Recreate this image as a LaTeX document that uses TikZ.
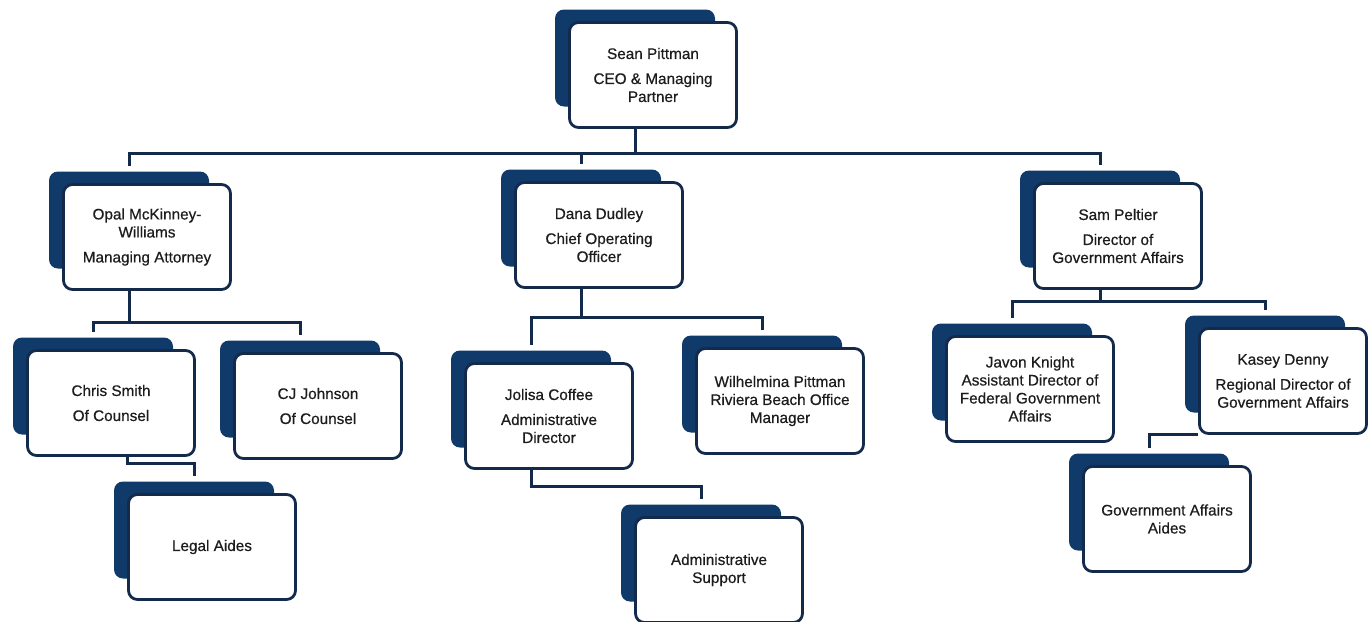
\documentclass[tikz,border=0pt]{standalone}
\usepackage{fontspec}
\setmainfont{Liberation Sans}[FakeBold=0.5]

\definecolor{navy}{RGB}{16,58,106}
\definecolor{edgec}{RGB}{20,42,74}
\definecolor{txt}{RGB}{28,28,30}

\begin{document}
\begin{tikzpicture}[x=1pt, y=-1pt, font=\fontsize{15.3}{18}\selectfont, text=txt,
    back/.style = {fill=navy, rounded corners=9pt, minimum width=160, minimum height=97, inner sep=0pt},
    card/.style = {draw=edgec, fill=white, line width=2.8pt, rounded corners=9pt, minimum width=167, minimum height=105, inner sep=2pt, align=center},
    link/.style = {draw=edgec, line width=3pt, shorten >=5pt}]
    \useasboundingbox (0,0) rectangle (1372,621);
    % top
    \node[back] (seanbk) at (635,58) {};
    \node[card] (sean) at ([shift={(18,17)}]seanbk) {Sean Pittman\\[7pt]CEO \& Managing\\Partner};
    % second row
    \node[back] (opalbk) at (129,220) {};
    \node[card] (opal) at ([shift={(18,17)}]opalbk) {Opal McKinney-\\Williams\\[7pt]Managing Attorney};
    \node[back] (danabk) at (581,218) {};
    \node[card] (dana) at ([shift={(18,17)}]danabk) {Dana Dudley\\[7pt]Chief Operating\\Officer};
    \node[back] (sambk) at (1100,219) {};
    \node[card] (sam) at ([shift={(18,17)}]sambk) {Sam Peltier\\[7pt]Director of\\Government Affairs};
    % third row
    \node[back] (chrisbk) at (93,386) {};
    \node[card] (chris) at ([shift={(18,17)}]chrisbk) {Chris Smith\\[7pt]Of Counsel};
    \node[back] (cjbk) at (300,389) {};
    \node[card] (cj) at ([shift={(18,17)}]cjbk) {CJ Johnson\\[7pt]Of Counsel};
    \node[back] (jolisabk) at (531,399) {};
    \node[card] (jolisa) at ([shift={(18,17)}]jolisabk) {Jolisa Coffee\\[7pt]Administrative\\Director};
    \node[back] (wilbk) at (762,384) {};
    \node[card] (wil) at ([shift={(18,17)}]wilbk) {Wilhelmina Pittman\\Riviera Beach Office\\Manager};
    \node[back] (javonbk) at (1012,372) {};
    \node[card] (javon) at ([shift={(18,17)}]javonbk) {Javon Knight\\Assistant Director of\\Federal Government\\Affairs};
    \node[back] (kaseybk) at (1265,364) {};
    \node[card] (kasey) at ([shift={(18,17)}]kaseybk) {Kasey Denny\\[7pt]Regional Director of\\Government Affairs};
    % bottom row
    \node[back] (legalbk) at (194,530) {};
    \node[card] (legal) at ([shift={(18,17)}]legalbk) {Legal Aides};
    \node[back] (adminbk) at (701,553) {};
    \node[card] (admin) at ([shift={(18,17)}]adminbk) {Administrative\\Support};
    \node[back] (gaabk) at (1149,502) {};
    \node[card] (gaa) at ([shift={(18,17)}]gaabk) {Government Affairs\\Aides};
    % connectors
    \draw[link] (sean.south -| seanbk.center) -- ++(0,24.5) -| (opalbk.north);
    \draw[link] (sean.south -| seanbk.center) -- ++(0,24.5) -| (danabk.north);
    \draw[link] (sean.south -| seanbk.center) -- ++(0,24.5) -| (sambk.north);
    \draw[link] (opal.south -| opalbk.center) -- ++(0,31.5) -| (chrisbk.north);
    \draw[link] (opal.south -| opalbk.center) -- ++(0,31.5) -| (cjbk.north);
    \draw[link] ([xshift=16pt]chris.south) -- ++(0,6.5) -| (legalbk.north);
    \draw[link] (dana.south -| danabk.center) -- ++(0,28.5) -| (jolisabk.north);
    \draw[link] (dana.south -| danabk.center) -- ++(0,28.5) -| (wilbk.north);
    \draw[link] (jolisa.south -| jolisabk.center) -- ++(0,16.5) -| (adminbk.north);
    \draw[link] (sam.south -| sambk.center) -- ++(0,11.5) -| (javonbk.north);
    \draw[link] (sam.south -| sambk.center) -- ++(0,11.5) -| (kaseybk.north);
    \draw[link] (kasey.south west) -| (gaabk.north);
\end{tikzpicture}
\end{document}
